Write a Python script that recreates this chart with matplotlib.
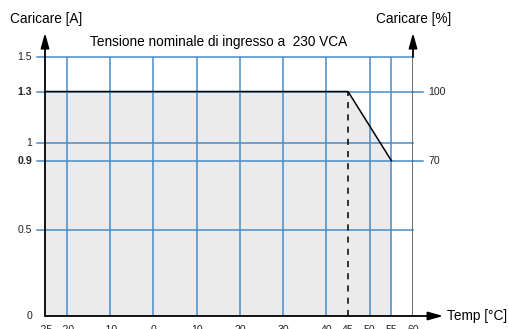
import matplotlib.pyplot as plt

plt.rcParams['font.family'] = ['Liberation Sans', 'DejaVu Sans']

# derating curve data
temp = [-25, 45, 55]
load_a = [1.3, 1.3, 0.9]

x_ticks = [-25, -20, -10, 0, 10, 20, 30, 40, 45, 50, 55, 60]
x_grid = [-20, -10, 0, 10, 20, 30, 40, 50, 55]
y_ticks = [0, 0.5, 0.9, 1, 1.3, 1.5]
y_labels = ["0", "0.5", "0.9", "1", "1.3", "1.5"]
y_bold = [0.9, 1.3]
right_ticks = [0.9, 1.3]
right_labels = ["70", "100"]

grid_col = "#4a8bc9"

fig = plt.figure(figsize=(5.1, 3.29), dpi=100)
ax = fig.add_axes([45 / 510, 1 - 316 / 329, 368 / 510, 259 / 329])
ax.set_xlim(-25, 60)
ax.set_ylim(0, 1.5)
for s in ax.spines.values():
    s.set_visible(False)
ax.set_xticks([])
ax.set_yticks([])

# grey area under the curve
ax.fill_between(temp, [0, 0, 0], load_a, color="#ebebeb", lw=0, zorder=1)

# grid
for x in x_grid:
    ax.plot([x, x], [0, 1.5], color=grid_col, lw=1.1, zorder=2)
for y in y_ticks[1:]:
    ax.plot([-26.8, 60], [y, y], color=grid_col, lw=1.1, zorder=2, clip_on=False)
for y in right_ticks:
    ax.plot([60, 62.2], [y, y], color=grid_col, lw=1.1, zorder=2, clip_on=False)

# curve
ax.plot(temp, load_a, color="black", lw=1.1, zorder=4)
ax.plot([45, 45], [0, 1.3], color="black", lw=1.1, ls=(0, (4, 4)), zorder=4)

# right axis line at 60
ax.plot([60, 60], [0, 1.5], color="#555555", lw=1.2, zorder=3)

# axis arrows
arr = dict(arrowstyle="-|>,head_length=0.9,head_width=0.25", color="black", lw=1.3,
           mutation_scale=10, shrinkA=0, shrinkB=0)
ax.annotate("", xy=(-25, 1.64), xytext=(-25, 0), annotation_clip=False, arrowprops=arr)
ax.annotate("", xy=(60, 1.64), xytext=(60, 1.5), annotation_clip=False, arrowprops=arr)
ax.annotate("", xy=(67, 0), xytext=(-25, 0), annotation_clip=False, arrowprops=arr)

# left tick labels
for y, lab in zip(y_ticks, y_labels):
    ax.text(-28, y, lab, ha="right", va="center", fontsize=7.6,
            fontweight="bold" if y in y_bold else "normal", color="#222222")
for y, lab in zip(right_ticks, right_labels):
    ax.text(63.5, y, lab, ha="left", va="center", fontsize=7.6, color="#222222")

# bottom tick labels (cut off at figure edge, as in the source)
for x in x_ticks:
    ax.text(x, -0.055, str(x), ha="center", va="top", fontsize=7.6, color="#222222")

fig.text(10 / 510, 1 - 19 / 329, "Caricare [A]", ha="left", va="center", fontsize=9.8)
fig.text(376 / 510, 1 - 19 / 329, "Caricare [%]", ha="left", va="center", fontsize=9.8)
fig.text(90 / 510, 1 - 42 / 329, "Tensione nominale di ingresso a  230 VCA", ha="left", va="center", fontsize=9.8)
fig.text(447 / 510, 1 - 316 / 329, "Temp [°C]", ha="left", va="center", fontsize=9.8)

fig.savefig("out.png", dpi=100)
